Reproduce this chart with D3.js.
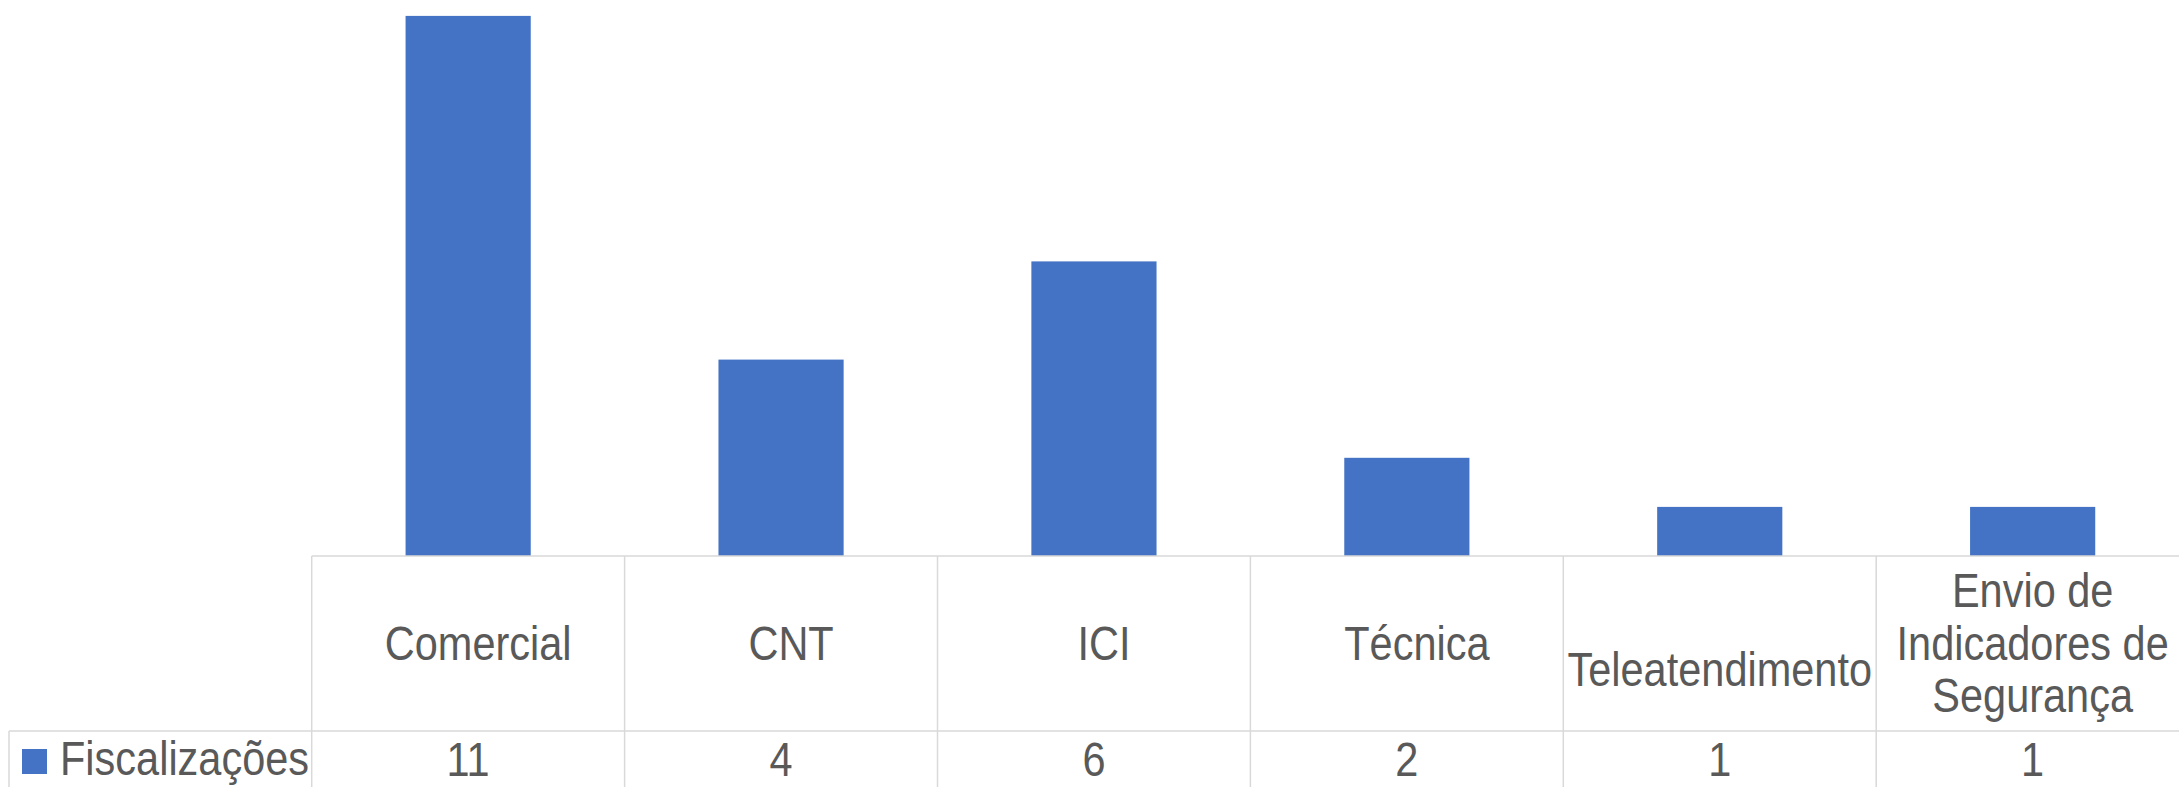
<!DOCTYPE html>
<html>
<head>
<meta charset="utf-8">
<script src="https://cdn.jsdelivr.net/npm/d3@7"></script>
<style>
  body { margin: 0; background: #fff; overflow: hidden; }
  svg { display: block; }
  text { font-family: "Liberation Sans", Arial, sans-serif; fill: #595959; }
</style>
</head>
<body>
<svg id="chart" width="2179" height="787"></svg>
<script>
/***************************  Data ***************************/
var categories = ["Comercial", "CNT", "ICI", "Técnica", "Teleatendimento", "Envio de Indicadores de Segurança"];
var seriesName = "Fiscalizações";
var values = [11, 4, 6, 2, 1, 1];
var yMax = 12;

/***************************  Layout ***************************/
var W = 2179, H = 787;
var tableLeft = 311.7, colW = 312.9;
var baseY = 556, unit = 49.1;
var rowY = 731;
var fontSize = 48;
var lineH = 52.5;
var narrow = 0.865;   // Arial Narrow look, from Liberation Sans squeezed

var svg = d3.select("#chart");

var xCol = d3.scaleBand()
    .domain(categories)
    .range([tableLeft, tableLeft + categories.length * colW])
    .padding(0);

var xBar = d3.scaleBand()
    .domain(categories)
    .range([tableLeft, tableLeft + categories.length * colW])
    .paddingInner(0.6)
    .paddingOuter(0.3);

var y = d3.scaleLinear()
    .domain([0, yMax])
    .range([baseY, baseY - yMax * unit]);

// bars
svg.append("g").attr("id", "bars")
    .selectAll("rect")
    .data(values)
    .enter()
    .append("rect")
    .attr("x", function(d, i) { return xBar(categories[i]); })
    .attr("width", xBar.bandwidth())
    .attr("y", function(d) { return y(d); })
    .attr("height", function(d) { return y(0) - y(d); })
    .attr("fill", "#4472C4");

// data table grid
var grid = svg.append("g").attr("id", "grid")
    .attr("stroke", "#d9d9d9")
    .attr("stroke-width", 1.5)
    .attr("fill", "none");

var tableRight = tableLeft + categories.length * colW;
grid.append("line").attr("x1", tableLeft).attr("x2", tableRight).attr("y1", baseY).attr("y2", baseY);
grid.append("line").attr("x1", 9).attr("x2", tableRight).attr("y1", rowY).attr("y2", rowY);
grid.append("line").attr("x1", 9).attr("x2", 9).attr("y1", rowY).attr("y2", H + 5);
grid.selectAll("line.col")
    .data(categories.concat(["_end"]))
    .enter()
    .append("line")
    .attr("class", "col")
    .attr("x1", function(d, i) { return tableLeft + i * colW; })
    .attr("x2", function(d, i) { return tableLeft + i * colW; })
    .attr("y1", baseY)
    .attr("y2", H + 5);

function narrowText(parent, x) {
    var g = parent.append("g")
        .attr("transform", "translate(" + x + ",0) scale(" + narrow + ",1)");
    return g.append("text").attr("x", 0);
}

// category labels (wrapped to cell width)
var labels = svg.append("g").attr("id", "cat_labels")
    .attr("font-size", fontSize + "px")
    .attr("text-anchor", "middle");

categories.forEach(function(cat, i) {
    var cx = xCol(cat) + colW / 2;
    var probe = labels.append("text").attr("visibility", "hidden");
    var words = cat.split(" ");
    var lines = [];
    var cur = "";
    words.forEach(function(w) {
        var test = cur ? cur + " " + w : w;
        probe.text(test);
        if (cur && probe.node().getComputedTextLength() * narrow > colW - 12) {
            lines.push(cur);
            cur = w;
        } else {
            cur = test;
        }
    });
    lines.push(cur);
    probe.text(lines[0]);
    var wide = probe.node().getComputedTextLength() * narrow > colW - 20;
    probe.remove();

    var firstBase = 660 - (lines.length - 1) * lineH / 2;
    if (wide && lines.length == 1) { firstBase = 686; }  // overflowing label sits lower, as in the original
    if (!wide && lines.length == 1) { cx += 10; }         // short labels sit a bit right of centre
    var t = narrowText(labels, cx);
    lines.forEach(function(l, k) {
        t.append("tspan")
            .attr("x", 0)
            .attr("y", firstBase + k * lineH)
            .text(l);
    });
});

// value row
var vals = svg.append("g").attr("id", "val_labels")
    .attr("font-size", fontSize + "px")
    .attr("text-anchor", "middle");
values.forEach(function(v, i) {
    narrowText(vals, xCol(categories[i]) + colW / 2)
        .attr("y", 776)
        .text(v);
});

// legend key in table
svg.append("rect")
    .attr("x", 22).attr("y", 749)
    .attr("width", 25).attr("height", 25)
    .attr("fill", "#4472C4");
narrowText(svg, 60)
    .attr("y", 775)
    .attr("font-size", fontSize + "px")
    .text(seriesName);
</script>
</body>
</html>
